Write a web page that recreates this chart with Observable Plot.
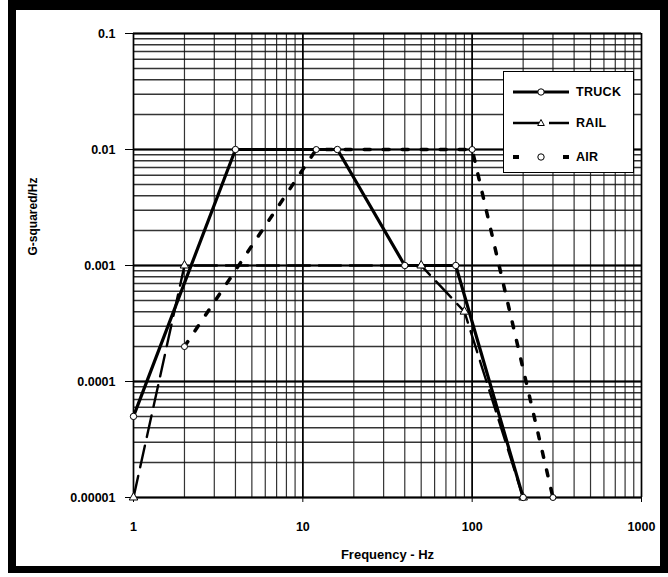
<!DOCTYPE html>
<html>
<head>
<meta charset="utf-8">
<script src="https://cdn.jsdelivr.net/npm/d3@7"></script>
<script src="https://cdn.jsdelivr.net/npm/@observablehq/plot@0.6"></script>
<style>
  html, body { margin: 0; padding: 0; background: #fff; }
  #wrap { position: relative; width: 668px; height: 577px; overflow: hidden; font-family: "Liberation Sans", Arial, sans-serif; }
  #chart { position: absolute; left: 0; top: 0; }
  #frame { position: absolute; left: 8px; top: 0; width: 660px; height: 573px; box-sizing: border-box;
           border-style: solid; border-color: #000; border-width: 10px 8px 7px 8px; pointer-events: none; }
  #legend { position: absolute; left: 503px; top: 71px; width: 131px; height: 102px; box-sizing: border-box;
            background: #fff; border: 1.5px solid #000; }
  #legend .row { position: absolute; left: 8px; height: 14px; display: flex; align-items: center; }
  #legend span { font-weight: bold; font-size: 12.5px; margin-left: 6px; letter-spacing: 0.3px; }
</style>
</head>
<body>
<div id="wrap">
  <div id="chart"></div>
  <div id="legend"></div>
  <div id="frame"></div>
</div>
<script>
// ---- data ----
const truckFreq = [1, 4, 16, 40, 80, 200];
const truckPsd  = [0.00005, 0.01, 0.01, 0.001, 0.001, 0.00001];
const railFreq  = [1, 2, 50, 90, 200];
const railPsd   = [0.00001, 0.001, 0.001, 0.0004, 0.00001];
const airFreq   = [2, 12, 100, 300];
const airPsd    = [0.0002, 0.01, 0.01, 0.00001];

const seriesNames = ["TRUCK", "RAIL", "AIR"];

// axis tick values and labels
const xTicks = [1, 10, 100, 1000];
const xTickLabels = ["1", "10", "100", "1000"];
const yTicks = [0.1, 0.01, 0.001, 0.0001, 0.00001];
const yTickLabels = ["0.1", "0.01", "0.001", "0.0001", "0.00001"];

// log grid lines (1..9 per decade)
const xGrid = [1,2,3,4,5,6,7,8,9,10,20,30,40,50,60,70,80,90,100,200,300,400,500,600,700,800,900,1000];
const yGrid = [
  0.00001,0.00002,0.00003,0.00004,0.00005,0.00006,0.00007,0.00008,0.00009,
  0.0001,0.0002,0.0003,0.0004,0.0005,0.0006,0.0007,0.0008,0.0009,
  0.001,0.002,0.003,0.004,0.005,0.006,0.007,0.008,0.009,
  0.01,0.02,0.03,0.04,0.05,0.06,0.07,0.08,0.09,0.1
];

const xTitle = "Frequency - Hz";
const yTitle = "G-squared/Hz";

// build tables
const toRows = (fs, ps) => fs.map((f, i) => ({f, p: ps[i]}));
const truck = toRows(truckFreq, truckPsd);
const rail = toRows(railFreq, railPsd);
const air = toRows(airFreq, airPsd);

const xLab = new Map(xTicks.map((t, i) => [t, xTickLabels[i]]));
const yLab = new Map(yTicks.map((t, i) => [t, yTickLabels[i]]));

const chart = Plot.plot({
  width: 668,
  height: 577,
  marginLeft: 133,
  marginRight: 27,
  marginTop: 33,
  marginBottom: 80,
  style: {fontFamily: "'Liberation Sans', Arial, sans-serif", fontWeight: "bold", fontSize: "12px", background: "transparent", color: "#000"},
  x: {type: "log", domain: [1, 1000]},
  y: {type: "log", domain: [0.00001, 0.1]},
  marks: [
    Plot.ruleX(xGrid, {x: d => d, stroke: "#111", strokeWidth: 1.2, strokeOpacity: 0.85}),
    Plot.ruleY(yGrid, {y: d => d, stroke: "#111", strokeWidth: 1.5, strokeOpacity: 0.85}),
    Plot.ruleX(xTicks, {x: d => d, stroke: "#000", strokeWidth: 1.6}),
    Plot.ruleY(yTicks, {y: d => d, stroke: "#000", strokeWidth: 1.9}),
    Plot.axisX({ticks: xTicks, tickFormat: d => xLab.get(d), tickSize: 5, tickPadding: 20, label: null, fontSize: 12.5, fontWeight: "bold"}),
    Plot.axisY({ticks: yTicks, tickFormat: d => yLab.get(d), tickSize: 8, tickPadding: 10, label: null, fontSize: 12.5, fontWeight: "bold"}),
    Plot.text([xTitle], {frameAnchor: "bottom", dy: 61, fontSize: 13, fontWeight: "bold", fill: "#000"}),
    Plot.text([yTitle], {frameAnchor: "left", rotate: -90, dx: -100, dy: -10, fontSize: 12, fontWeight: "bold", fill: "#000"}),
    // AIR: short square dashes
    Plot.line(air, {x: "f", y: "p", stroke: "#000", strokeWidth: 3.5, strokeDasharray: "6,13"}),
    // RAIL: long dashes
    Plot.line(rail, {x: "f", y: "p", stroke: "#000", strokeWidth: 2.4, strokeDasharray: "22,9"}),
    // TRUCK: solid
    Plot.line(truck, {x: "f", y: "p", stroke: "#000", strokeWidth: 3.2}),
    Plot.dot(air, {x: "f", y: "p", r: 3, fill: "#fff", stroke: "#000", strokeWidth: 1}),
    Plot.dot(rail, {x: "f", y: "p", r: 3.2, symbol: "triangle", fill: "#fff", stroke: "#000", strokeWidth: 1}),
    Plot.dot(truck, {x: "f", y: "p", r: 3.2, fill: "#fff", stroke: "#000", strokeWidth: 1})
  ]
});
document.getElementById("chart").appendChild(chart);

// legend
const legend = document.getElementById("legend");
const legendStyles = {
  TRUCK: {dash: null, width: 3.2, marker: "circle"},
  RAIL:  {dash: "26,10", width: 2.6, marker: "triangle"},
  AIR:   {dash: "6,19", width: 4, marker: "circle"}
};
const rowTops = [13, 44, 78];
seriesNames.forEach((name, i) => {
  const st = legendStyles[name];
  const row = document.createElement("div");
  row.className = "row";
  row.style.top = rowTops[i] + "px";
  const ns = "http://www.w3.org/2000/svg";
  const svg = document.createElementNS(ns, "svg");
  svg.setAttribute("width", 58);
  svg.setAttribute("height", 14);
  const ln = document.createElementNS(ns, "line");
  ln.setAttribute("x1", 1); ln.setAttribute("x2", 57);
  ln.setAttribute("y1", 7); ln.setAttribute("y2", 7);
  ln.setAttribute("stroke", "#000");
  ln.setAttribute("stroke-width", st.width);
  if (st.dash) ln.setAttribute("stroke-dasharray", st.dash);
  svg.appendChild(ln);
  let mk;
  if (st.marker === "circle") {
    mk = document.createElementNS(ns, "circle");
    mk.setAttribute("cx", 29); mk.setAttribute("cy", 7); mk.setAttribute("r", 3.2);
  } else {
    mk = document.createElementNS(ns, "path");
    mk.setAttribute("d", "M29,3.5L32.3,9.5L25.7,9.5Z");
  }
  mk.setAttribute("fill", "#fff"); mk.setAttribute("stroke", "#000"); mk.setAttribute("stroke-width", 1);
  svg.appendChild(mk);
  row.appendChild(svg);
  const label = document.createElement("span");
  label.textContent = name;
  row.appendChild(label);
  legend.appendChild(row);
});
</script>
</body>
</html>
